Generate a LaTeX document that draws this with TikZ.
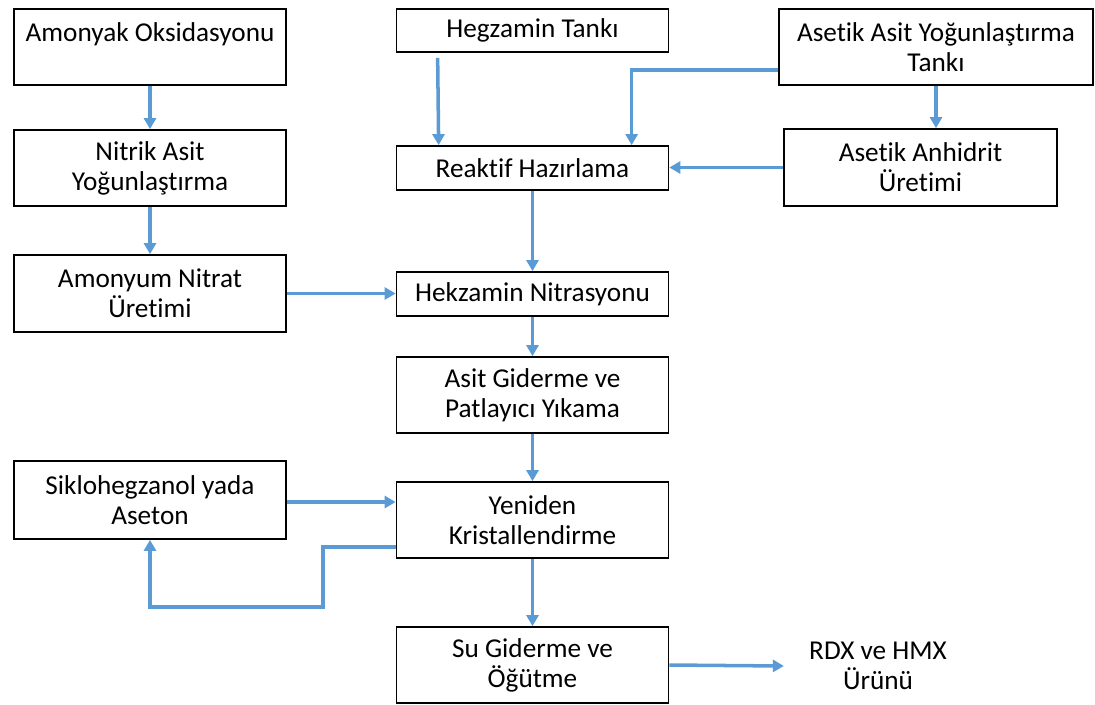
\documentclass[tikz,border=0pt]{standalone}
\usepackage{fontspec}
\setmainfont{Carlito}[Ligatures=NoCommon]
\usepackage{xcolor}
\usetikzlibrary{arrows.meta, calc}
\definecolor{flowblue}{HTML}{5B9BD5}

\begin{document}
\begin{tikzpicture}[x=0.02cm, y=-0.02cm, >={Triangle[length=2.2mm, width=2.4mm]},
  every node/.style={font=\fontsize{15.5}{17}\selectfont},
  box/.style={draw, line width=1pt, align=center, minimum width=5.44cm, inner sep=0pt},
  flow/.style={->, draw=flowblue, line width=2pt}]
  \useasboundingbox (0,0) rectangle (1095,704);
  % left column
  \node[box, minimum height=1.52cm] (amonyak) at (150,47) {Amonyak Oksidasyonu\\\mbox{}};
  \node[box, minimum height=1.52cm] (nitrik) at (150,168) {Nitrik Asit\\Yoğunlaştırma};
  \node[box, minimum height=1.54cm] (amonyum) at (150,293.5) {Amonyum Nitrat\\Üretimi};
  \node[box, minimum height=1.56cm] (siklo) at (150,500) {Siklohegzanol yada\\Aseton};
  % middle column
  \node[box, minimum height=0.86cm] (hegzamin) at (532.5,30.5) {Hegzamin Tankı};
  \node[box, minimum height=0.88cm] (reaktif) at (532.5,168) {Reaktif Hazırlama};
  \node[box, minimum height=0.88cm] (nitrasyon) at (532.5,294) {Hekzamin Nitrasyonu};
  \node[box, minimum height=1.52cm] (asitgiderme) at (532.5,395) {Asit Giderme ve\\Patlayıcı Yıkama};
  \node[box, minimum height=1.52cm] (kristal) at (532.5,520) {Yeniden\\Kristallendirme};
  \node[box, minimum height=1.52cm] (sugiderme) at (532.5,665) {Su Giderme ve\\Öğütme};
  % right column
  \node[box, minimum width=6.28cm, minimum height=1.52cm] (asetikasit) at (936,47) {Asetik Asit Yoğunlaştırma\\Tankı};
  \node[box, minimum width=5.46cm, minimum height=1.54cm] (anhidrit) at (920.5,167.5) {Asetik Anhidrit\\Üretimi};
  \node[align=center, inner xsep=0.5cm] (urun) at (878,666) {RDX ve HMX\\Ürünü};

  \draw[flow] (amonyak.south) -- (nitrik.north);
  \draw[flow] (nitrik.south) -- (amonyum.north);
  \draw[flow] (amonyum.east) -- (amonyum.east -| nitrasyon.west);
  \draw[flow] ($(hegzamin.south west)+(42,5)$) -- ($(reaktif.north west)+(43,0)$);
  \draw[flow] ($(asetikasit.west)+(0,23)$) -| ($(reaktif.north west)+(236,0)$);
  \draw[flow] (asetikasit.south) -- (asetikasit.south |- anhidrit.north);
  \draw[flow] (anhidrit.west) -- (anhidrit.west -| reaktif.east);
  \draw[flow] (reaktif.south) -- (nitrasyon.north);
  \draw[flow] (nitrasyon.south) -- (asitgiderme.north);
  \draw[flow] (asitgiderme.south) -- (kristal.north);
  \draw[flow] ($(siklo.east)+(0,2)$) -- ($(kristal.west)+(0,-18)$);
  \draw[flow] ($(kristal.west)+(0,27)$) -| ($(siklo.south)+(173,67)$) -| (siklo.south);
  \draw[flow] (kristal.south) -- (sugiderme.north);
  \draw[flow] (sugiderme.east) -- (urun.west);
\end{tikzpicture}
\end{document}
